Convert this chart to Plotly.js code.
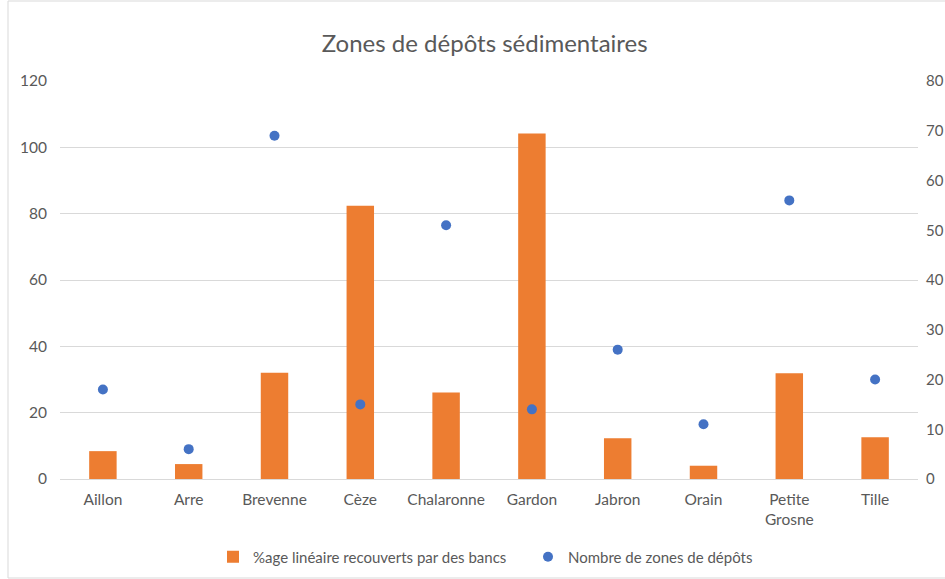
<!DOCTYPE html>
<html>
<head>
<meta charset="utf-8">
<script src="https://cdn.plot.ly/plotly-3.0.1.min.js"></script>
<style>html,body{margin:0;padding:0;background:#fff;}#chart{width:945px;height:579px;}</style>
</head>
<body>
<div id="chart"></div>
<script>
const categories = ["Aillon", "Arre", "Brevenne", "Cèze", "Chalaronne", "Gardon", "Jabron", "Orain", "Petite<br>Grosne", "Tille"];
const pctLineaire = [8.4, 4.5, 32.0, 82.4, 26.1, 104.2, 12.3, 4.0, 31.9, 12.6];
const nbZones = [18, 6, 69, 15, 51, 14, 26, 11, 56, 20];
const leftTicks = [0, 20, 40, 60, 80, 100, 120];
const rightTicks = [0, 10, 20, 30, 40, 50, 60, 70, 80];

const fontFam = "Lato, 'Open Sans', sans-serif";
const grey = "#595959";

const traces = [
  {
    type: "bar", x: categories, y: pctLineaire, name: "%age linéaire recouverts par des bancs",
    marker: {color: "#ED7D31"}, yaxis: "y"
  },
  {
    type: "scatter", mode: "markers", x: categories, y: nbZones, name: "Nombre de zones de dépôts",
    marker: {color: "#4472C4", size: 10}, yaxis: "y2"
  }
];

const layout = {
  width: 945, height: 579,
  margin: {l: 60, r: 27, t: 81, b: 100, autoexpand: false},
  paper_bgcolor: "#fff", plot_bgcolor: "#fff",
  font: {family: fontFam, color: grey, size: 15.5},
  title: {text: "Zones de dépôts sédimentaires", font: {size: 24, color: grey, family: fontFam},
          xref: "paper", x: 0.495, xanchor: "center", y: 0.924, yanchor: "middle"},
  bargap: 0.68,
  showlegend: true,
  legend: {orientation: "h", xref: "paper", x: (213 - 60) / 858, xanchor: "left", y: -0.196, yanchor: "middle", bgcolor: "rgba(0,0,0,0)",
           font: {size: 15, color: grey}, itemwidth: 30, traceorder: "normal", entrywidthmode: "pixels", entrywidth: 270},
  xaxis: {
    automargin: false, range: [-0.5, 9.5], showgrid: false, showline: true, linecolor: "#d9d9d9", linewidth: 1, ticks: "",
    tickfont: {size: 15.5, color: grey}, zeroline: false, ticklabelstandoff: 6
  },
  yaxis: {
    automargin: false, range: [0, 120], tickvals: leftTicks, ticktext: leftTicks.map(String), showgrid: true, gridcolor: "#d9d9d9",
    zeroline: false, showline: false, ticks: "", tickfont: {size: 15.5, color: grey}, ticklabelstandoff: 12
  },
  yaxis2: {
    automargin: false, range: [0, 80], tickvals: rightTicks, ticktext: rightTicks.map(String), overlaying: "y", side: "right",
    showgrid: false, zeroline: false, showline: false, ticks: "", tickfont: {size: 15, color: grey}, ticklabelstandoff: 7
  },
  shapes: [
    {type: "rect", xref: "paper", yref: "paper",
     x0: (8 - 60) / 858, x1: (960 - 60) / 858, y0: (479 - 578) / 398, y1: (479 - 1) / 398,
     line: {color: "#d9d9d9", width: 1}, fillcolor: "rgba(0,0,0,0)", layer: "below"}
  ]
};

Plotly.newPlot("chart", traces, layout, {displayModeBar: false, staticPlot: true});
</script>
</body>
</html>
